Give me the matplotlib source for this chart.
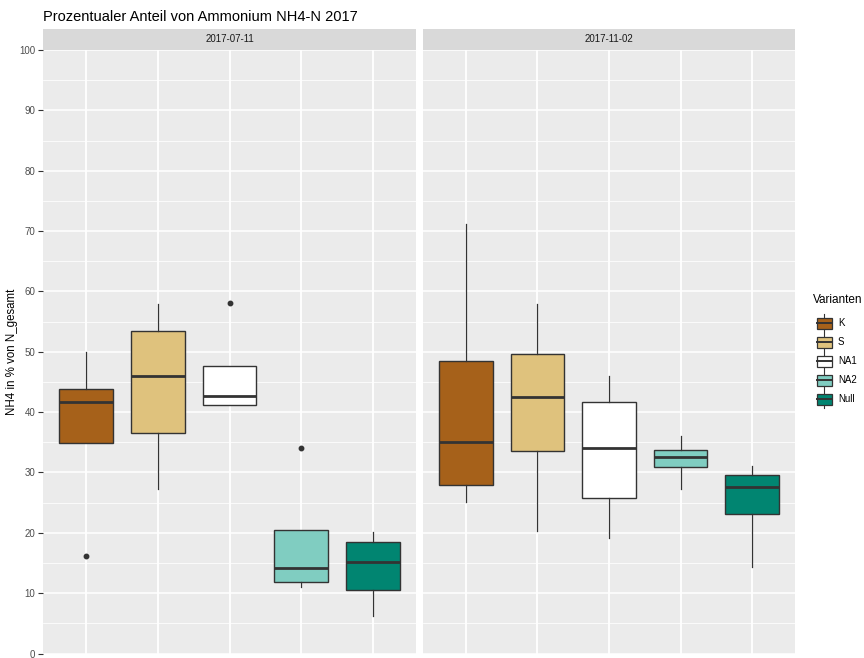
import matplotlib
matplotlib.use("Agg")
import matplotlib.pyplot as plt
from matplotlib.patches import Rectangle
from matplotlib.lines import Line2D

plt.rcParams['font.family'] = ['Liberation Sans', 'DejaVu Sans']

# Data: five-number summaries per variant and sampling date
dates = ["2017-07-11", "2017-11-02"]
varianten = ["K", "S", "NA1", "NA2", "Null"]
colors = ["#A6611A", "#DFC27D", "#FFFFFF", "#80CDC1", "#018571"]

whislo_0711 = [34.9, 27.2, 41.1, 11.1, 6.2]
q1_0711 = [34.9, 36.6, 41.1, 11.8, 10.5]
med_0711 = [41.6, 46.0, 42.6, 14.2, 15.1]
q3_0711 = [43.9, 53.4, 47.6, 20.4, 18.4]
whishi_0711 = [50.0, 57.9, 47.6, 20.4, 20.1]
fliers_0711 = [[16.2], [], [58.0], [34.0], []]

whislo_1102 = [25.1, 20.3, 19.2, 27.2, 14.3]
q1_1102 = [28.0, 33.6, 25.8, 30.9, 23.1]
med_1102 = [35.0, 42.5, 34.0, 32.6, 27.6]
q3_1102 = [48.4, 49.7, 41.6, 33.7, 29.5]
whishi_1102 = [71.1, 57.9, 45.9, 36.0, 31.0]
fliers_1102 = [[], [], [], [], []]

panels = [
    (whislo_0711, q1_0711, med_0711, q3_0711, whishi_0711, fliers_0711),
    (whislo_1102, q1_1102, med_1102, q3_1102, whishi_1102, fliers_1102),
]

W, H = 864, 658
fig = plt.figure(figsize=(W / 100, H / 100), dpi=100)

panel_bg = "#EBEBEB"
strip_bg = "#D9D9D9"
edge = "#333333"

panel_x = [(43, 416), (423, 795)]
p_top, p_bot = 50, 653.5
s_top = 29


def fx(px):
    return px / W


def fy(py):
    return 1 - py / H


for i, ((x0, x1), stats_arrays) in enumerate(zip(panel_x, panels)):
    ax = fig.add_axes([fx(x0), fy(p_bot), fx(x1) - fx(x0), fy(p_top) - fy(p_bot)])
    ax.set_facecolor(panel_bg)
    for s in ax.spines.values():
        s.set_visible(False)
    ax.set_xlim(0.4, 5.6)
    ax.set_ylim(0, 100)
    ax.set_yticks(range(0, 101, 10))
    ax.set_yticks(range(5, 100, 10), minor=True)
    ax.set_xticks(range(1, 6))
    ax.grid(True, which="major", color="white", linewidth=1.1, zorder=0)
    ax.grid(True, which="minor", axis="y", color="white", linewidth=0.55, zorder=0)
    ax.set_axisbelow(True)
    ax.tick_params(axis="x", which="both", length=0, labelbottom=False)
    ax.tick_params(axis="y", which="minor", length=0)
    if i == 0:
        ax.tick_params(axis="y", which="major", length=3.5, width=0.8, color="#333333",
                       labelsize=7, labelcolor="#4D4D4D", pad=2)
    else:
        ax.tick_params(axis="y", which="major", length=0, labelleft=False)

    wl, q1, md, q3, wh, fl = stats_arrays
    stats = []
    for k in range(len(varianten)):
        stats.append(dict(whislo=wl[k], q1=q1[k], med=md[k], q3=q3[k], whishi=wh[k],
                          fliers=fl[k], label=varianten[k]))
    bp = ax.bxp(stats, positions=range(1, 6), widths=0.75, patch_artist=True,
                showcaps=False,
                boxprops=dict(edgecolor=edge, linewidth=1.0),
                medianprops=dict(color=edge, linewidth=2.0, solid_capstyle="butt"),
                whiskerprops=dict(color=edge, linewidth=0.9),
                flierprops=dict(marker="o", markerfacecolor=edge, markeredgecolor=edge,
                                markersize=3.2))
    for patch, c in zip(bp["boxes"], colors):
        patch.set_facecolor(c)
        patch.set_zorder(2)
    for m in bp["medians"]:
        m.set_zorder(3)

    # facet strip
    sax = fig.add_axes([fx(x0), fy(p_top), fx(x1) - fx(x0), fy(s_top) - fy(p_top)])
    sax.set_facecolor(strip_bg)
    sax.set_xticks([])
    sax.set_yticks([])
    for s in sax.spines.values():
        s.set_visible(False)
    sax.text(0.5, 0.5, dates[i], ha="center", va="center", fontsize=7, color="#1A1A1A",
             transform=sax.transAxes)

fig.text(fx(43), fy(17), "Prozentualer Anteil von Ammonium NH4-N 2017", fontsize=10.5,
         ha="left", va="center", color="black")
fig.text(fx(12.5), fy((p_top + p_bot) / 2), "NH4 in % von N_gesamt", fontsize=8.3,
         rotation=90, ha="center", va="center", color="black")

# legend with boxplot glyphs
fig.text(fx(813), fy(300), "Varianten", fontsize=8.5, ha="left", va="center", color="black")
key_y = [323, 342, 361, 380, 399]
for name, c, ky in zip(varianten, colors, key_y):
    cx = 824
    fig.add_artist(Line2D([fx(cx), fx(cx)], [fy(ky - 9), fy(ky + 9)], color=edge,
                          linewidth=0.8, transform=fig.transFigure))
    fig.add_artist(Rectangle((fx(cx - 7.5), fy(ky + 5.5)), fx(15), 11 / H,
                             facecolor=c, edgecolor=edge, linewidth=0.9,
                             transform=fig.transFigure, zorder=3))
    fig.add_artist(Line2D([fx(cx - 7.5), fx(cx + 7.5)], [fy(ky), fy(ky)], color=edge,
                          linewidth=1.4, transform=fig.transFigure, zorder=4))
    fig.text(fx(838), fy(ky), name, fontsize=7, ha="left", va="center", color="black")

fig.savefig("out.png", dpi=100)
